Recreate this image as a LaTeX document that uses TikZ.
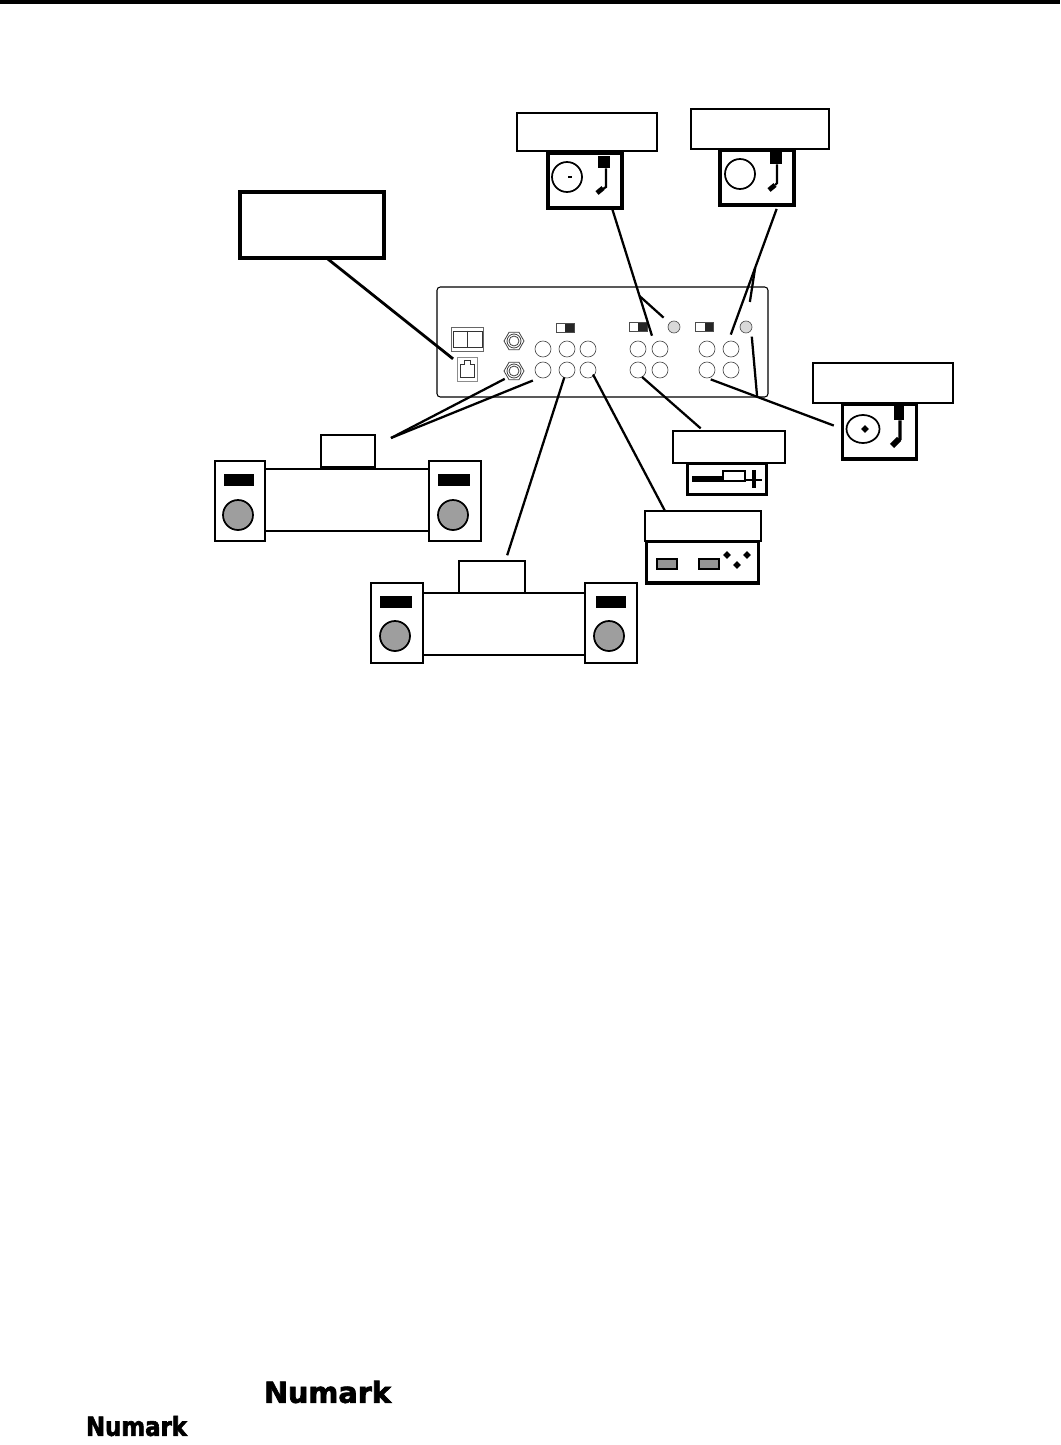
\documentclass[tikz,border=0pt]{standalone}
\usepackage{fontspec}
\newfontfamily\logofont[UprightFont={* Bold},UprightFeatures={FakeBold=2.5}]{DejaVu Sans}
\usetikzlibrary{positioning,calc,shapes.geometric}

\begin{document}
\begin{tikzpicture}[
    x=0.75pt,
    y=-0.75pt,
    tagbox/.style={
        rectangle,
        draw,
        fill=white,
        line width=1.4pt,
        inner sep=0pt,
        outer sep=0pt
    },
    device/.style={
        rectangle,
        draw,
        fill=white,
        line width=2.8pt,
        inner sep=0pt,
        outer sep=0pt
    },
    cabinet/.style={
        rectangle,
        draw,
        fill=white,
        line width=1.3pt,
        inner sep=0pt,
        outer sep=0pt,
        minimum height=60pt
    },
    badge/.style={
        rectangle,
        fill=black,
        inner sep=0pt,
        outer sep=0pt,
        minimum height=9pt
    },
    cone/.style={
        circle,
        draw,
        fill=black!38,
        line width=1.3pt,
        inner sep=0pt,
        minimum size=22.5pt
    },
    jack/.style={
        circle,
        draw=black!70,
        line width=0.5pt,
        inner sep=0pt,
        outer sep=0pt,
        minimum size=12pt
    },
    ground/.style={
        circle,
        draw=black!70,
        fill=black!15,
        line width=0.5pt,
        inner sep=0pt,
        outer sep=0pt,
        minimum size=9pt
    },
    socket/.style={
        regular polygon,
        regular polygon sides=6,
        draw=black!75,
        line width=0.6pt,
        inner sep=0pt,
        outer sep=0pt,
        minimum size=15pt
    },
    slider/.style={
        rectangle,
        draw=black!70,
        line width=0.5pt,
        fill=white,
        inner sep=0pt,
        outer sep=0pt,
        minimum width=13.5pt,
        minimum height=6.75pt,
        path picture={\fill[black!85] (path picture bounding box.south) rectangle (path picture bounding box.north east);}
    },
    knob/.style={
        diamond,
        fill=black,
        inner sep=0pt,
        minimum size=6pt
    },
    platter/.style={
        draw,
        line width=1.3pt
    },
    wire/.style={
        line width=1.7pt
    },
    logo/.style={
        inner sep=0pt,
        font=\logofont
    }
]

\useasboundingbox (0,0) rectangle (1060,1445);
\fill (0,0) rectangle (1060,4);

\node[draw, rounded corners=2.5pt, line width=0.8pt, inner sep=0pt, outer sep=0pt,
      minimum width=248.25pt, minimum height=82.5pt] (panel) at (602.5,342) {};

\node[rectangle, draw=black!60, line width=0.7pt, inner sep=0pt,
      minimum width=24pt, minimum height=18pt] (power) at (467,339) {};
\node[rectangle, draw=black!80, line width=0.5pt, inner sep=0pt,
      minimum width=21.5pt, minimum height=12pt] (rocker) at (467.5,339) {};
\draw[black!80, line width=0.5pt] (rocker.north) -- (rocker.south);

\node[rectangle, draw=black!45, line width=0.7pt, inner sep=0pt, outer sep=0pt,
      minimum width=15pt, minimum height=18pt] (phone) at (467,369) {};
\draw[black!80, line width=0.6pt] (460,377) -- (460,364) -- (464,364) -- (464,360)
      -- (470,360) -- (470,364) -- (474,364) -- (474,377) -- cycle;

\node[socket] (sockU) at (514,341) {};
\node[socket] (sockL) at (514,371) {};
\draw[black!75, line width=0.6pt] (sockU.center) circle (7);
\draw[black!75, line width=0.6pt] (sockU.center) circle (5);
\draw[black!75, line width=0.6pt] (sockL.center) circle (7);
\draw[black!75, line width=0.6pt] (sockL.center) circle (5);

\node[slider] (sw1) at (565,327.5) {};
\node[slider] (sw2) at (638,326.5) {};
\node[slider] (sw3) at (704.5,326.5) {};

\node[ground] (gnda) at (674,327) {};
\node[ground] (gndb) at (746,327) {};

\node[jack] (jt1) at (543,349) {};
\node[jack] (jt2) at (567,349) {};
\node[jack] (jt3) at (588,349) {};
\node[jack] (jt4) at (638,349) {};
\node[jack] (jt5) at (660,349) {};
\node[jack] (jt6) at (707,349) {};
\node[jack] (jt7) at (731,349) {};
\node[jack] (jb1) at (543,370) {};
\node[jack] (jb2) at (567,370) {};
\node[jack] (jb3) at (588,370) {};
\node[jack] (jb4) at (638,370) {};
\node[jack] (jb5) at (660,370) {};
\node[jack] (jb6) at (707,370) {};
\node[jack] (jb7) at (731,370) {};

\node[device, line width=3pt, minimum width=108.5pt, minimum height=50pt] (monitor) at (312,225) {};

\node[device, minimum width=55.5pt, minimum height=41.5pt] (deckA) at (585,180.5) {};
\node[tagbox, minimum width=105pt, minimum height=28.5pt] (deckAtag) at (587,132) {};
\draw[platter] (567,177) circle (15);
\fill (568,176) rectangle (571.5,178);
\node[rectangle, fill=black, minimum width=9pt, minimum height=9pt, inner sep=0pt] (headA) at (604,162) {};
\draw[line width=1.6pt] ([xshift=1.5pt]headA.south) -- (606,187) -- (603,189);
\draw[line width=3.6pt] (603,188) -- (597,193);

\node[device, minimum width=55.5pt, minimum height=41.5pt] (deckB) at (757,177.5) {};
\node[tagbox, minimum width=103.5pt, minimum height=30pt] (deckBtag) at (760,129) {};
\draw[platter] (740,174) circle (15);
\node[rectangle, fill=black, minimum width=9pt, minimum height=9pt, inner sep=0pt] (headB) at (776,158) {};
\draw[line width=1.6pt] ([xshift=0.75pt]headB.south) -- (777,183) -- (775,185);
\draw[line width=3.6pt] (775,185) -- (769,190);

\node[device, minimum width=55.5pt, minimum height=41.5pt] (deckC) at (879.5,431.5) {};
\node[tagbox, minimum width=105pt, minimum height=30pt] (deckCtag) at (883,383) {};
\draw[platter] (863,429) ellipse (16.5 and 14);
\node[knob] (spindle) at (865,429) {};
\node[rectangle, fill=black, minimum width=7.5pt, minimum height=12pt, inner sep=0pt] (headC) at (899,412) {};
\draw[line width=2.6pt] ([xshift=0.75pt]headC.south) -- (900,439) -- (898,441);
\draw[line width=4.4pt] (899,439) -- (892,446);

\node[device, line width=2.4pt, minimum width=59pt, minimum height=23.5pt] (mic) at (727,479) {};
\node[tagbox, minimum width=84pt, minimum height=24pt] (mictag) at (729,447) {};
\fill (692,476) rectangle (723,482);
\node[rectangle, draw, fill=white, line width=1.1pt, inner sep=0pt,
      minimum width=16.5pt, minimum height=7.5pt] (micbody) at (734,476) {};
\draw[line width=2.2pt] (745,480) -- (762,480);
\draw[line width=3.4pt] (754,470) -- (754,488);

\node[device, minimum width=84pt, minimum height=31pt] (tape) at (702.5,562) {};
\node[tagbox, minimum width=87pt, minimum height=22.5pt] (tapetag) at (703,526) {};
\node[rectangle, draw, fill=black!42, line width=1pt, inner sep=0pt,
      minimum width=15pt, minimum height=7.5pt] (wellA) at (667,564) {};
\node[rectangle, draw, fill=black!42, line width=1pt, inner sep=0pt,
      minimum width=15pt, minimum height=7.5pt] (wellB) at (709,564) {};
\node[knob] (keyA) at (727,555) {};
\node[knob] (keyB) at (747,555) {};
\node[knob] (keyC) at (737,565) {};

\node[tagbox, line width=1.3pt, minimum width=123pt, minimum height=46.5pt] (ampA) at (347,500) {};
\node[cabinet, minimum width=37.5pt] (spkAL) at (240,501) {};
\node[cabinet, minimum width=39pt] (spkAR) at (455,501) {};
\node[badge, minimum width=22.5pt] (barAL) at (239,480) {};
\node[badge, minimum width=24pt] (barAR) at (454,480) {};
\node[cone] (coneAL) at (238,515) {};
\node[cone] (coneAR) at (453,515) {};
\node[tagbox, line width=1.3pt, minimum width=40.5pt, minimum height=24pt] (ampAtag) at (348,451) {};

\node[tagbox, line width=1.3pt, minimum width=121.5pt, minimum height=46.5pt] (ampB) at (504,624) {};
\node[cabinet, minimum width=39pt] (spkBL) at (397,623) {};
\node[cabinet, minimum width=39pt] (spkBR) at (611,623) {};
\node[badge, minimum width=24pt] (barBL) at (396,602) {};
\node[badge, minimum width=22.5pt] (barBR) at (611,602) {};
\node[cone] (coneBL) at (395,636) {};
\node[cone] (coneBR) at (609,636) {};
\node[tagbox, line width=1.3pt, minimum width=49.5pt, minimum height=24pt] (ampBtag) at (492,577) {};

\coordinate (ampAtip) at (391,438);

\draw[wire, line width=2.1pt, shorten >=3.8pt] ([xshift=11.25pt]monitor.south) -- ([yshift=-3.75pt]phone.north west);
\draw[wire, shorten >=6pt] ([xshift=-7.5pt]deckA.south east) -- coordinate[pos=0.65] (tapA) (jt5.135);
\draw[wire, shorten >=6pt] (tapA) -- (gnda);
\draw[wire, shorten <=3pt, shorten >=5.5pt] ([xshift=-12pt]deckB.south east) -- coordinate[pos=0.46] (tapB) (jt7.110);
\draw[wire, shorten >=14.5pt] (tapB) -- (gndb);
\draw[wire, shorten <=7pt, shorten >=3pt] ([yshift=2pt]deckC.west) -- coordinate[pos=0.63] (tapC) (jb6.south);
\draw[wire, shorten <=5pt] (gndb.-30) -- (tapC);
\draw[wire, shorten <=3pt] ([xshift=-19pt]mictag.north) -- (jb4.-60);
\draw[wire, shorten >=-1pt] ([xshift=-28.5pt]tapetag.north) -- (jb3.south east);
\draw[wire, shorten <=4.5pt] ([xshift=10pt]ampBtag.north) -- (jb2.-110);
\draw[wire, shorten >=2.5pt] (ampAtip) -- (sockL.south west);
\draw[wire, shorten >=6pt] (ampAtip) -- (jb1.-110);

\node[logo] (logoA) at (327.5,1392) {\resizebox{95.25pt}{16.5pt}{Numark}};
\node[logo] (logoB) at (136.5,1426) {\resizebox{75.75pt}{15pt}{Numark}};

\end{tikzpicture}
\end{document}
